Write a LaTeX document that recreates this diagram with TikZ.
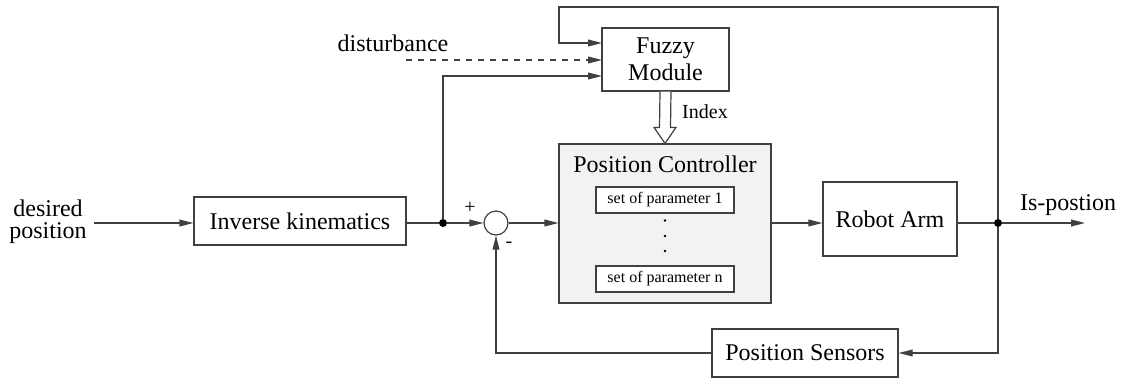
\documentclass[tikz,border=0pt]{standalone}
\usepackage{fontspec}
\setmainfont{Liberation Serif}
\usetikzlibrary{arrows.meta,calc}
\begin{document}
\begin{tikzpicture}[x=0.5pt,y=-0.5pt,
  line/.style={draw=black!75,line width=0.6pt},
  arr/.style={line,-{Triangle[length=7pt,width=3.4pt]}},
  blk/.style={draw=black!75,line width=0.6pt,inner sep=0pt,font=\fontsize{12}{13.5}\selectfont,align=center},
  sub/.style={draw=black!75,line width=0.6pt,inner sep=0pt,font=\fontsize{8}{9}\selectfont,fill=white},
  lbl/.style={inner sep=0pt,font=\fontsize{12}{13.5}\selectfont,align=center},
  dotj/.style={circle,fill=black,inner sep=0pt,minimum size=4pt}]
\useasboundingbox (0,0) rectangle (1123,381);
% blocks
\node[blk,minimum width=106pt,minimum height=24pt] (ik) at (300,221) {Inverse kinematics};
\node[blk,minimum width=63.5pt,minimum height=31.5pt] (fz) at (665.5,59.5) {Fuzzy\\Module};
\node[blk,minimum width=106pt,minimum height=79.5pt,fill=black!5] (pc) at (665,223.5) {};
\node[lbl] (pct) at (665,164) {Position Controller};
\node[sub,minimum width=69pt,minimum height=13pt] (p1) at (665,200) {set of parameter 1};
\node[sub,minimum width=69pt,minimum height=13pt] (pn) at (665,279) {set of parameter n};
\node[circle,fill=black,inner sep=0pt,minimum size=1.3pt] (d1) at (665,220.5) {};
\node[circle,fill=black,inner sep=0pt,minimum size=1.3pt] (d2) at (665,236) {};
\node[circle,fill=black,inner sep=0pt,minimum size=1.3pt] (d3) at (665,251) {};
\node[blk,minimum width=67pt,minimum height=37pt] (ra) at (890,219) {Robot Arm};
\node[blk,minimum width=93pt,minimum height=24pt] (ps) at (805,353) {Position Sensors};
\node[circle,draw=black!75,line width=0.6pt,inner sep=0pt,minimum size=12pt] (sum) at (496,223) {};
% junctions
\node[dotj] (j1) at (443,223) {};
\node[dotj] (j2) at (998,223) {};
% labels
\node[lbl,font=\fontsize{12}{11}\selectfont] (dp) at (48,222) {desired\\position};
\node[lbl] (dist) at (393,43) {disturbance};
\node[lbl] (isp) at (1068,205) {Is-postion};
\node[lbl,font=\fontsize{10}{12}\selectfont] (idx) at (705,112) {Index};
\node[lbl,font=\fontsize{10}{12}\selectfont] (plus) at (470,208) {+};
\node[lbl,font=\fontsize{10}{12}\selectfont] (minus) at (509,245) {-};
% coordinates
\coordinate (in0) at (94,223);
\coordinate (out) at (1085,223);
\coordinate (tr) at (998,7);
\coordinate (tl) at (559,7);
\coordinate (f1) at (602,43);
\coordinate (f2) at (602,60);
\coordinate (f3) at (602,76);
\coordinate (ds) at (406,60);
% connectors
\draw[arr] (in0) -- (in0 -| ik.west);
\draw[line] (ik.east |- j1) -- (j1);
\draw[arr] (j1) -- (sum.west);
\draw[arr] (sum.east) -- (sum.east -| pc.west);
\draw[arr] (pc.east |- sum) -- (sum -| ra.west);
\draw[line] (ra.east |- j2) -- (j2);
\draw[arr] (j2) -- (out);
\draw[arr] (j2) |- (ps.east);
\draw[arr] (ps.west) -| (sum.south);
\draw[arr] (j2) -- (tr) -- (tl) |- (f1);
\draw[arr,dashed] (ds) -- (f2);
\draw[arr] (j1) |- (f3);
% index arrow
\draw[line,fill=white] ($(fz.south)+(-5.5,0)$) -- ($(pc.north)+(-5.5,-16)$) -- ($(pc.north)+(-11,-16)$)
  -- (pc.north) -- ($(pc.north)+(11,-16)$) -- ($(pc.north)+(5.5,-16)$) -- ($(fz.south)+(5.5,0)$);
\end{tikzpicture}
\end{document}
